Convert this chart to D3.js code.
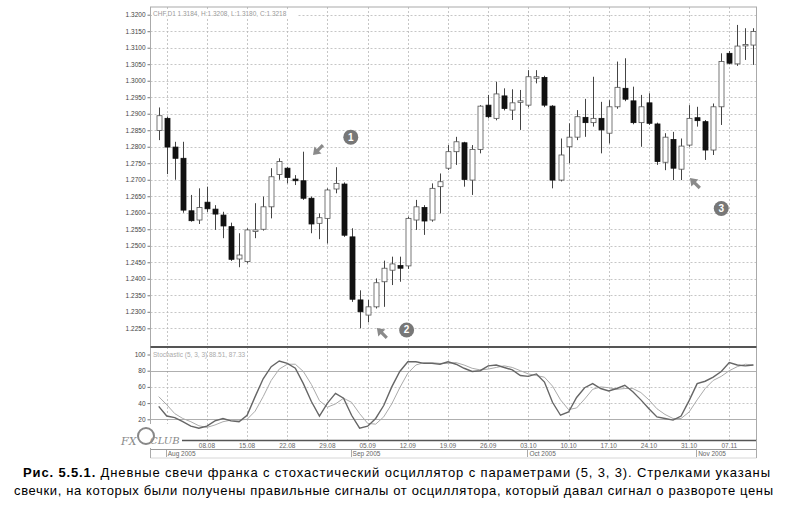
<!DOCTYPE html>
<html><head><meta charset="utf-8">
<script src="https://cdn.jsdelivr.net/npm/d3@7"></script>
<style>body{margin:0;background:#fff;} svg{display:block;}</style>
</head><body><svg id="c" width="794" height="508"></svg>
<script>
// ---------- DATA ----------
const dates = ["29.07",
 "01.08","02.08","03.08","04.08","05.08","08.08","09.08","10.08","11.08","12.08","15.08","16.08","17.08","18.08","19.08","22.08","23.08","24.08","25.08","26.08","29.08","30.08","31.08",
 "01.09","02.09","05.09","06.09","07.09","08.09","09.09","12.09","13.09","14.09","15.09","16.09","19.09","20.09","21.09","22.09","23.09","26.09","27.09","28.09","29.09","30.09",
 "03.10","04.10","05.10","06.10","07.10","10.10","11.10","12.10","13.10","14.10","17.10","18.10","19.10","20.10","21.10","24.10","25.10","26.10","27.10","28.10","31.10",
 "01.11","02.11","03.11","04.11","07.11","08.11","09.11","10.11"];
const openP  = [1.2849,1.2886,1.2799,1.2765,1.2606,1.2578,1.2632,1.2611,1.2593,1.2558,1.2460,1.2452,1.2543,1.2550,1.2618,1.2716,1.2735,1.2702,1.2697,1.2644,1.2568,1.2583,1.2672,1.2687,1.2527,1.2336,1.2290,1.2315,1.2391,1.2426,1.2440,1.2439,1.2578,1.2616,1.2578,1.2679,1.2735,1.2785,1.2812,1.2699,1.2792,1.2926,1.2886,1.2954,1.2911,1.2936,1.2926,1.3010,1.3010,1.2923,1.2699,1.2800,1.2829,1.2889,1.2873,1.2886,1.2841,1.2921,1.2977,1.2939,1.2873,1.2933,1.2869,1.2753,1.2822,1.2732,1.2805,1.2888,1.2876,1.2790,1.2921,1.3083,1.3051,1.3108,1.3108];
const highP  = [1.2919,1.2891,1.2815,1.2815,1.2654,1.2674,1.2679,1.2623,1.2603,1.2570,1.2538,1.2553,1.2629,1.2649,1.2735,1.2765,1.2739,1.2714,1.2785,1.2649,1.2598,1.2674,1.2738,1.2692,1.2553,1.2365,1.2336,1.2401,1.2455,1.2467,1.2467,1.2588,1.2639,1.2623,1.2689,1.2719,1.2805,1.2830,1.2815,1.2805,1.2926,1.2957,1.2997,1.2977,1.2974,1.2972,1.3032,1.3032,1.3015,1.2926,1.2825,1.2871,1.2911,1.2945,1.3012,1.2936,1.2941,1.3058,1.3068,1.2982,1.2957,1.2962,1.2873,1.2841,1.2845,1.2825,1.2926,1.2921,1.2881,1.2931,1.3083,1.3090,1.3169,1.3159,1.3159];
const lowP   = [1.2820,1.2717,1.2700,1.2600,1.2573,1.2566,1.2602,1.2548,1.2523,1.2454,1.2435,1.2447,1.2523,1.2546,1.2583,1.2700,1.2689,1.2684,1.2639,1.2538,1.2520,1.2507,1.2659,1.2527,1.2330,1.2250,1.2268,1.2310,1.2315,1.2381,1.2391,1.2430,1.2548,1.2533,1.2573,1.2598,1.2730,1.2745,1.2679,1.2654,1.2780,1.2886,1.2880,1.2910,1.2881,1.2851,1.2920,1.2992,1.2920,1.2674,1.2695,1.2750,1.2820,1.2830,1.2861,1.2780,1.2810,1.2915,1.2938,1.2868,1.2800,1.2866,1.2745,1.2729,1.2699,1.2699,1.2800,1.2861,1.2760,1.2775,1.2866,1.3050,1.3045,1.3063,1.3048];
const closeP = [1.2894,1.2799,1.2765,1.2608,1.2576,1.2616,1.2612,1.2596,1.2560,1.2459,1.2472,1.2548,1.2548,1.2618,1.2709,1.2755,1.2707,1.2697,1.2644,1.2566,1.2585,1.2669,1.2689,1.2532,1.2338,1.2300,1.2315,1.2388,1.2432,1.2445,1.2432,1.2583,1.2618,1.2575,1.2674,1.2694,1.2785,1.2815,1.2701,1.2792,1.2923,1.2891,1.2960,1.2916,1.2933,1.2939,1.3012,1.3012,1.2926,1.2699,1.2775,1.2829,1.2891,1.2873,1.2886,1.2851,1.2921,1.2980,1.2944,1.2873,1.2921,1.2871,1.2755,1.2829,1.2735,1.2802,1.2886,1.2879,1.2790,1.2921,1.3058,1.3053,1.3105,1.3110,1.3149];
const stochK = [36,24,22,17,11.5,9,11.5,18,21,18,17,25,48,70,85,92,89,83,64,42,24,40,52,46,25,9,11.5,21,37,60,79,91,91,89,89,88,91,88,83,79,80,86,87,84,81,74,73,76,66,41,25,29,47,59,64,58,55,58,62,54,44,33,23,21,19,24,43,64,67,72,79,90,87,86,87];
const stochD = [48,38,27,21,17,12,10,13,17,19,19,20,30,48,68,82,88,88,79,63,43,35,39,46,41,27,15,14,23,39,59,77,87,90,90,89,89,90,87,83,81,82,84,86,84,80,76,74,72,61,44,32,34,45,57,60,59,57,58,58,53,44,33,26,21,21,29,44,58,68,73,80,85,88,87];
const priceTicks = [1.3200,1.3150,1.3100,1.3050,1.3000,1.2950,1.2900,1.2850,1.2800,1.2750,1.2700,1.2650,1.2600,1.2550,1.2500,1.2450,1.2400,1.2350,1.2300,1.2250];
const stochTicks = [100,80,60,40,20];
const weekStarts = ["01.08","08.08","15.08","22.08","29.08","05.09","12.09","19.09","26.09","03.10","10.10","17.10","24.10","31.10","07.11"];
const weekLabels = ["","08.08","15.08","22.08","29.08","05.09","12.09","19.09","26.09","03.10","10.10","17.10","24.10","31.10","07.11"];
const monthStarts = ["01.08","01.09","03.10","01.11"];
const monthLabels = ["Aug 2005","Sep 2005","Oct 2005","Nov 2005"];
// signals: arrow points at candle, numbered circle nearby (position in candle-index / price units)
const signalNums = ["1","2","3"];
const arrowAt = [{i:19.2,p:1.2775,dir:"dl"},{i:27.15,p:1.2251,dir:"ul"},{i:66.1,p:1.2705,dir:"ul"}];
const circleAt = [{i:23.9,p:1.2829},{i:30.85,p:1.2245},{i:70.0,p:1.2613}];

// ---------- LAYOUT ----------
const L = 150.5, R = 756.5, PT = 7, PB = 346, ST = 348, SB = 440.5;
const svg = d3.select("#c");
svg.append("rect").attr("width",794).attr("height",508).attr("fill","#fff");

const x = d3.scalePoint().domain(dates).range([158.7, 753.4]);
const xi = d3.scaleLinear().domain([0, dates.length-1]).range([158.7, 753.4]);
const y = d3.scaleLinear().domain([1.2250, 1.3200]).range([328.3, 14.7]);
const ys = d3.scaleLinear().domain([20, 100]).range([419.3, 354.5]);

const grid = svg.append("g").attr("stroke","#b8b8b8").attr("stroke-width",0.8).attr("stroke-dasharray","2,2");
grid.selectAll(".hp").data(priceTicks).join("line")
  .attr("x1",L).attr("x2",R).attr("y1",d=>Math.round(y(d))+0.5).attr("y2",d=>Math.round(y(d))+0.5);
svg.append("g").selectAll("line").data(stochTicks.filter(d=>d<100)).join("line")
  .attr("x1",L).attr("x2",R).attr("y1",d=>Math.round(ys(d))+0.5).attr("y2",d=>Math.round(ys(d))+0.5)
  .attr("stroke",d=>(d===80||d===20)?"#9a9a9a":"#b8b8b8")
  .attr("stroke-dasharray",d=>(d===80||d===20)?null:"2,2").attr("stroke-width",0.8);
grid.selectAll(".v").data(weekStarts).join("line")
  .attr("x1",d=>Math.round(x(d))+0.5).attr("x2",d=>Math.round(x(d))+0.5).attr("y1",PT).attr("y2",SB);

const yAxis = d3.axisLeft(y).tickValues(priceTicks).tickFormat(d3.format(".4f")).tickSize(3).tickPadding(2);
const ga = svg.append("g").attr("transform",`translate(${L},0)`).call(yAxis);
ga.select(".domain").remove();
ga.selectAll("line").attr("stroke","#777");
ga.selectAll("text").attr("font-family","Liberation Sans, Arial, sans-serif").attr("font-size",6.5).attr("fill","#444");
const sAxis = d3.axisLeft(ys).tickValues(stochTicks).tickSize(3).tickPadding(2);
const gs = svg.append("g").attr("transform",`translate(${L},0)`).call(sAxis);
gs.select(".domain").remove();
gs.selectAll("line").attr("stroke","#777");
gs.selectAll("text").attr("font-family","Liberation Sans, Arial, sans-serif").attr("font-size",6.5).attr("fill","#444");

svg.append("rect").attr("x",152).attr("y",9).attr("width",146).attr("height",9).attr("fill","#fff");
svg.append("text").attr("x",153).attr("y",16).attr("font-family","Liberation Sans, Arial, sans-serif")
  .attr("font-size",6.5).attr("fill","#999").text("CHF,D1 1.3184, H:1.3208, L:1.3180, C:1.3218");

const cg = svg.append("g");
const cd = dates.map((d,i)=>({d,o:openP[i],h:highP[i],l:lowP[i],c:closeP[i]}));
cg.selectAll(".w").data(cd).join("line")
  .attr("x1",d=>Math.round(x(d.d))+0.5).attr("x2",d=>Math.round(x(d.d))+0.5)
  .attr("y1",d=>y(d.h)).attr("y2",d=>y(d.l)).attr("stroke","#444").attr("stroke-width",1);
cg.selectAll(".b").data(cd).join("rect")
  .attr("x",d=>Math.round(x(d.d))-2).attr("width",5)
  .attr("y",d=>y(Math.max(d.o,d.c))).attr("height",d=>Math.max(1.5,Math.abs(y(d.o)-y(d.c))))
  .attr("fill",d=>d.c>=d.o?"#fff":"#111").attr("stroke",d=>d.c>=d.o?"#555":"#111").attr("stroke-width",0.8);

svg.append("clipPath").attr("id","sc").append("rect").attr("x",L).attr("y",ST).attr("width",R-L).attr("height",SB-ST);
const lineD = d3.line().x((d,i)=>x(dates[i])).y(d=>ys(d));
svg.append("path").datum(stochD).attr("d",lineD).attr("fill","none").attr("stroke","#aaa").attr("stroke-width",1).attr("clip-path","url(#sc)");
svg.append("path").datum(stochK).attr("d",lineD).attr("fill","none").attr("stroke","#666").attr("stroke-width",1.4).attr("clip-path","url(#sc)");
svg.append("text").attr("x",153).attr("y",357).attr("font-family","Liberation Sans, Arial, sans-serif")
  .attr("font-size",6.5).attr("fill","#aaa").text("Stochastic (5, 3, 3) 88.51, 87.33");

const fr = svg.append("g").attr("fill","none");
fr.append("rect").attr("x",L).attr("y",PT).attr("width",R-L).attr("height",SB-PT).attr("stroke","#aaa").attr("stroke-width",1);
fr.append("line").attr("x1",L).attr("x2",R).attr("y1",347).attr("y2",347).attr("stroke","#555").attr("stroke-width",2);
fr.append("line").attr("x1",L).attr("x2",R).attr("y1",440.5).attr("y2",440.5).attr("stroke","#555").attr("stroke-width",1.6);
fr.append("line").attr("x1",L).attr("x2",R).attr("y1",449.5).attr("y2",449.5).attr("stroke","#999").attr("stroke-width",1);
fr.append("line").attr("x1",L).attr("x2",R).attr("y1",458).attr("y2",458).attr("stroke","#ccc").attr("stroke-width",0.8);
fr.append("line").attr("x1",R).attr("x2",R).attr("y1",440).attr("y2",458).attr("stroke","#aaa");
fr.append("line").attr("x1",L).attr("x2",L).attr("y1",440).attr("y2",458).attr("stroke","#aaa");

const dl = svg.append("g").attr("font-family","Liberation Sans, Arial, sans-serif").attr("font-size",6.5).attr("fill","#666").attr("text-anchor","middle");
dl.selectAll("text").data(weekStarts).join("text")
  .attr("x",d=>x(d)).attr("y",447.5).text((d,i)=>weekLabels[i]);
const ml = svg.append("g").attr("font-family","Liberation Sans, Arial, sans-serif").attr("font-size",6.5).attr("fill","#666");
ml.selectAll("text").data(monthStarts).join("text")
  .attr("x",d=>x(d)+1).attr("y",456).text((d,i)=>monthLabels[i]);
ml.selectAll("line").data(monthStarts).join("line")
  .attr("x1",d=>Math.round(x(d))-0.5).attr("x2",d=>Math.round(x(d))-0.5).attr("y1",450).attr("y2",457).attr("stroke","#aaa");

const arrowPath = "M0,0 L7,-5 L7,-1.6 L14,-1.6 L14,1.6 L7,1.6 L7,5 Z";
svg.append("g").selectAll("path").data(arrowAt).join("path")
  .attr("d",arrowPath).attr("fill","#8a8a8a")
  .attr("transform",d=>`translate(${xi(d.i)},${y(d.p)}) rotate(${d.dir==="dl"?-45:45})`);
const cgp = svg.append("g");
cgp.selectAll("circle").data(circleAt).join("circle")
  .attr("cx",d=>xi(d.i)).attr("cy",d=>y(d.p)).attr("r",7.5).attr("fill","#777");
cgp.selectAll("text").data(circleAt).join("text")
  .attr("x",d=>xi(d.i)).attr("y",d=>y(d.p)+3.5).attr("text-anchor","middle")
  .attr("font-family","Liberation Sans, Arial, sans-serif").attr("font-weight","bold").attr("font-size",10).attr("fill","#fff")
  .text((d,i)=>signalNums[i]);

svg.append("rect").attr("x",118).attr("y",424).attr("width",64).attr("height",24).attr("fill","#fff");
const lg = svg.append("g").attr("fill","#888").attr("font-family","DejaVu Serif, serif").attr("font-style","italic");
lg.append("text").attr("x",121).attr("y",445).attr("font-size",11).text("FX");
lg.append("circle").attr("cx",146).attr("cy",436).attr("r",8).attr("fill","none").attr("stroke","#888").attr("stroke-width",2);
lg.append("text").attr("x",150).attr("y",444).attr("font-size",10).text("CLUB");

const cap = svg.append("g").attr("font-family","Liberation Sans, Arial, sans-serif").attr("font-size",13).attr("fill","#000");
const t1 = cap.append("text").attr("x",23).attr("y",477).attr("textLength",747).attr("lengthAdjust","spacing");
t1.append("tspan").attr("font-weight","bold").text("Рис. 5.5.1.");
t1.append("tspan").text(" Дневные свечи франка с стохастический осциллятор с параметрами (5, 3, 3). Стрелками указаны");
cap.append("text").attr("x",14).attr("y",495).attr("textLength",759).attr("lengthAdjust","spacing")
  .text("свечки, на которых были получены правильные сигналы от осциллятора, который давал сигнал о развороте цены");
</script></body></html>
